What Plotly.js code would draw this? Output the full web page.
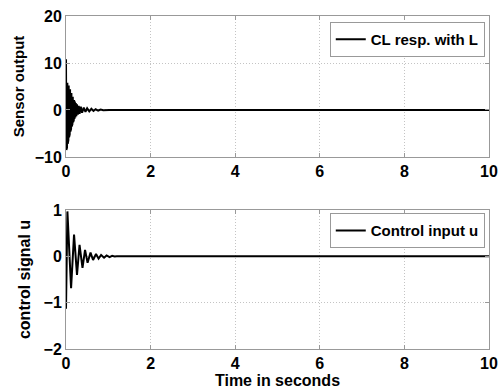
<!DOCTYPE html>
<html><head><meta charset="utf-8">
<script src="https://cdn.plot.ly/plotly-3.0.1.min.js"></script>
<style>html,body{margin:0;padding:0;background:#fff;}#c{width:502px;height:389px;}</style>
</head><body><div id="c"></div>
<script>
// Sensor output (CL resp. with L)
const tSensor = [0.000,0.008,0.016,0.024,0.032,0.040,0.048,0.056,0.064,0.072,0.080,0.088,0.096,0.104,0.112,0.120,0.128,0.136,0.144,0.152,0.160,0.168,0.176,0.184,0.192,0.200,0.210,0.220,0.232,0.245,0.26,0.28,0.30,0.32,0.35,0.38,0.42,0.46,0.50,0.55,0.60,0.65,0.70,0.76,0.82,0.88,0.95,1.02,1.10,10];
const ySensor = [10.8,-8.5,6.0,-8.0,5.8,-7.2,5.6,-6.4,5.2,-5.8,4.8,-5.2,4.4,-4.6,4.0,-4.0,3.6,-3.5,3.2,-3.0,2.8,-2.6,2.5,-2.2,2.1,-1.9,1.8,-1.6,1.5,-1.3,1.2,-1.0,0.9,-0.8,0.7,-0.6,0.5,-0.4,0.35,-0.3,0.25,-0.2,0.15,-0.12,0.08,-0.06,0.04,-0.02,0,0];
// Control input u
const tControl = [0,0.033,0.12,0.19,0.26,0.32,0.39,0.45,0.51,0.58,0.64,0.71,0.77,0.83,0.90,0.96,1.03,1.09,1.15,1.2,10];
const uControl = [-1.13,0.97,-0.69,0.47,-0.40,0.25,-0.25,0.14,-0.14,0.08,-0.08,0.05,-0.05,0.03,-0.03,0.02,-0.015,0.01,-0.005,0,0];
const xTicks = [0,2,4,6,8,10];
const ySensorTicks = [-10,0,10,20];
const uTicks = [-2,-1,0,1];

const F = 'Liberation Sans, Arial, sans-serif';
const tickFont = {family:F, size:16, color:'#000', weight:'bold'};
const ax = {showline:true, mirror:'ticks', linecolor:'#999', linewidth:1,
  ticks:'inside', ticklen:4, tickcolor:'#999', showgrid:true, gridcolor:'#c4c4c4',
  griddash:'1px,2px', gridwidth:1, zeroline:false, tickfont:tickFont};

const data = [
  {x:tSensor, y:ySensor, type:'scatter', mode:'lines', name:'CL resp. with L',
   line:{color:'#000', width:2}, xaxis:'x', yaxis:'y', legend:'legend'},
  {x:tControl, y:uControl, type:'scatter', mode:'lines', name:'Control input u',
   line:{color:'#000', width:2}, xaxis:'x2', yaxis:'y2', legend:'legend2'}
];
const legBase = {bgcolor:'#fff', bordercolor:'#999', borderwidth:1,
  font:{family:F, size:15, color:'#000', weight:'bold'}, xanchor:'right', yanchor:'top',
  tracegroupgap:0, itemwidth:30};
const layout = {
  width:502, height:389, margin:{l:66, r:13, t:16, b:40},
  paper_bgcolor:'#fff', plot_bgcolor:'#fff', showlegend:true,
  xaxis:Object.assign({}, ax, {domain:[0,1], range:[0,10], tickvals:xTicks, anchor:'y'}),
  yaxis:Object.assign({}, ax, {domain:[0.5766,1], range:[-10,20], tickvals:ySensorTicks, anchor:'x',
    title:{text:'Sensor output', font:{family:F, size:15, color:'#000', weight:'bold'}, standoff:6}}),
  xaxis2:Object.assign({}, ax, {domain:[0,1], range:[0,10], tickvals:xTicks, anchor:'y2',
    title:{text:'Time in seconds', font:{family:F, size:16, color:'#000', weight:'bold'}, standoff:0}}),
  yaxis2:Object.assign({}, ax, {domain:[0,0.4174], range:[-2,1], tickvals:uTicks, anchor:'x2',
    title:{text:'control signal u', font:{family:F, size:16, color:'#000', weight:'bold'}, standoff:8}}),
  legend:Object.assign({}, legBase, {x:0.99, y:0.982}),
  legend2:Object.assign({}, legBase, {x:0.99, y:0.408})
};
Plotly.newPlot('c', data, layout, {displayModeBar:false, staticPlot:true});
</script></body></html>
